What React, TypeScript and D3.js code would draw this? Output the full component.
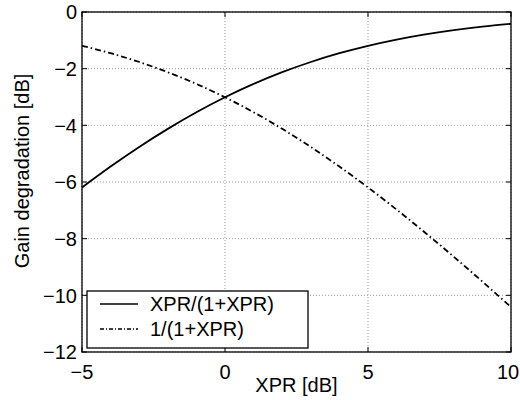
import React from "react";
import * as d3 from "d3";

const xprDb = [-5, -4, -3, -2, -1, 0, 1, 2, 3, 4, 5, 6, 7, 8, 9, 10];
const xprOverOnePlusXpr = [-6.193, -5.455, -4.764, -4.125, -3.539, -3.01, -2.539, -2.124, -1.764, -1.455, -1.193, -0.973, -0.79, -0.639, -0.515, -0.414];
const oneOverOnePlusXpr = [-1.193, -1.455, -1.764, -2.125, -2.539, -3.01, -3.539, -4.124, -4.764, -5.455, -6.193, -6.973, -7.79, -8.639, -9.515, -10.414];
const xTicks = [-5, 0, 5, 10];
const yTicks = [0, -2, -4, -6, -8, -10, -12];
const seriesNames = ["XPR/(1+XPR)", "1/(1+XPR)"];

const W = 520, H = 400;
const L = 82, R = 511, T = 12, B = 352;
const font = "'Liberation Sans', Arial, Helvetica, sans-serif";
const FS = 20;
const minus = (v: number) => (v < 0 ? "\u2212" + Math.abs(v) : String(v));

export default function App() {
  const x = d3.scaleLinear().domain([-5, 10]).range([L, R]);
  const y = d3.scaleLinear().domain([-12, 0]).range([B, T]);
  const line = d3
    .line<[number, number]>()
    .x((d) => x(d[0]))
    .y((d) => y(d[1]))
    .curve(d3.curveMonotoneX);
  const d1 = line(xprDb.map((v, i) => [v, xprOverOnePlusXpr[i]] as [number, number]))!;
  const d2 = line(xprDb.map((v, i) => [v, oneOverOnePlusXpr[i]] as [number, number]))!;
  const dashDot = "6,3,1.5,3";
  const legX = 87, legY = 291, legW = 221, legH = 57;

  return (
    <svg width={W} height={H} style={{ position: "absolute", left: 0, top: 0, background: "#fff" }} fontFamily={font}>
      <rect x={0} y={0} width={W} height={H} fill="#fff" />
      {/* grid */}
      {xTicks.map((t) => (
        <line key={"gx" + t} x1={x(t)} x2={x(t)} y1={T} y2={B} stroke="#999" strokeWidth={1} strokeDasharray="1,2" />
      ))}
      {yTicks.map((t) => (
        <line key={"gy" + t} x1={L} x2={R} y1={y(t)} y2={y(t)} stroke="#999" strokeWidth={1} strokeDasharray="1,2" />
      ))}
      {/* ticks */}
      {xTicks.map((t) => (
        <g key={"tx" + t}>
          <line x1={x(t)} x2={x(t)} y1={B} y2={B - 5} stroke="#000" />
          <line x1={x(t)} x2={x(t)} y1={T} y2={T + 5} stroke="#000" />
          <text x={Math.min(x(t), W - 12)} y={379} textAnchor="middle" fontSize={FS}>{minus(t)}</text>
        </g>
      ))}
      {yTicks.map((t) => (
        <g key={"ty" + t}>
          <line x1={L} x2={L + 5} y1={y(t)} y2={y(t)} stroke="#000" />
          <line x1={R} x2={R - 5} y1={y(t)} y2={y(t)} stroke="#000" />
          <text x={77} y={y(t)} dy="0.36em" textAnchor="end" fontSize={FS}>{minus(t)}</text>
        </g>
      ))}
      {/* curves */}
      <path d={d1} fill="none" stroke="#000" strokeWidth={1.8} />
      <path d={d2} fill="none" stroke="#000" strokeWidth={1.8} strokeDasharray={dashDot} />
      {/* frame */}
      <rect x={L} y={T} width={R - L} height={B - T} fill="none" stroke="#000" strokeWidth={1.3} />
      {/* legend */}
      <rect x={legX} y={legY} width={legW} height={legH} fill="#fff" stroke="#000" strokeWidth={1.3} />
      <line x1={100} x2={138} y1={304} y2={304} stroke="#000" strokeWidth={1.3} />
      <text x={150} y={304} dy="0.36em" fontSize={FS}>{seriesNames[0]}</text>
      <line x1={100} x2={138} y1={329} y2={329} stroke="#000" strokeWidth={1.3} strokeDasharray="4,2,1,2" />
      <text x={150} y={329} dy="0.36em" fontSize={FS}>{seriesNames[1]}</text>
      {/* axis labels */}
      <text x={(L + R) / 2} y={392} textAnchor="middle" fontSize={FS}>XPR [dB]</text>
      <text transform={`translate(29,171) rotate(-90)`} textAnchor="middle" fontSize={FS}>Gain degradation [dB]</text>
    </svg>
  );
}
